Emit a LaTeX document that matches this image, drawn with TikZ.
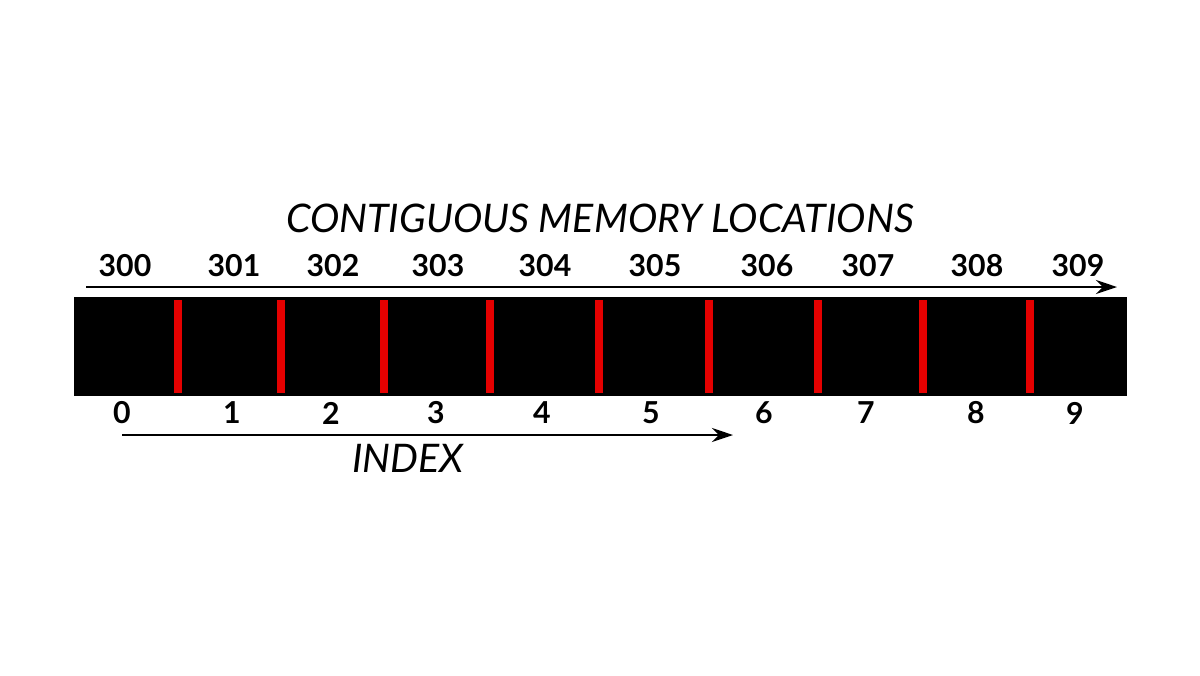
\documentclass[tikz,border=0pt]{standalone}
\usepackage{fontspec}
\setmainfont{Lato}
\usetikzlibrary{arrows.meta}
\begin{document}
\begin{tikzpicture}[x=0.01cm,y=-0.01cm,
  num/.style={font=\fontsize{8.6}{10}\selectfont\bfseries, inner sep=0},
  ttl/.style={font=\fontsize{11.2}{13}\selectfont\itshape, inner sep=0},
  arr/.style={line width=0.8pt,-{Stealth[length=6pt,width=4pt]}},
  sep/.style={red!90!black, line width=2.2pt}]
\useasboundingbox (0,0) rectangle (1200,675);
\fill[black] (74,297) rectangle (1127,396);
\foreach \x in {178,281,384,490,599,709,818,923,1030}
  \draw[sep] (\x,300) -- (\x,393);
\node[ttl] (title) at (600,218) {CONTIGUOUS MEMORY LOCATIONS};
\coordinate (a1) at (86,287); \coordinate (a2) at (1117,287);
\draw[arr] (a1) -- (a2);
\foreach \x/\t in {125/300,234/301,333/302,438/303,545/304,655/305,767/306,868/307,977/308,1078/309}
  \node[num] (m\t) at (\x,266) {\t};
\foreach \x/\t in {122/0,232/1,331/2,436/3,542/4,651/5,764/6,866/7,976/8,1075/9}
  \node[num] (i\t) at (\x,413) {\t};
\coordinate (b1) at (122,435); \coordinate (b2) at (733,435);
\draw[arr] (b1) -- (b2);
\node[ttl] (index) at (408,458) {INDEX};
\end{tikzpicture}
\end{document}
